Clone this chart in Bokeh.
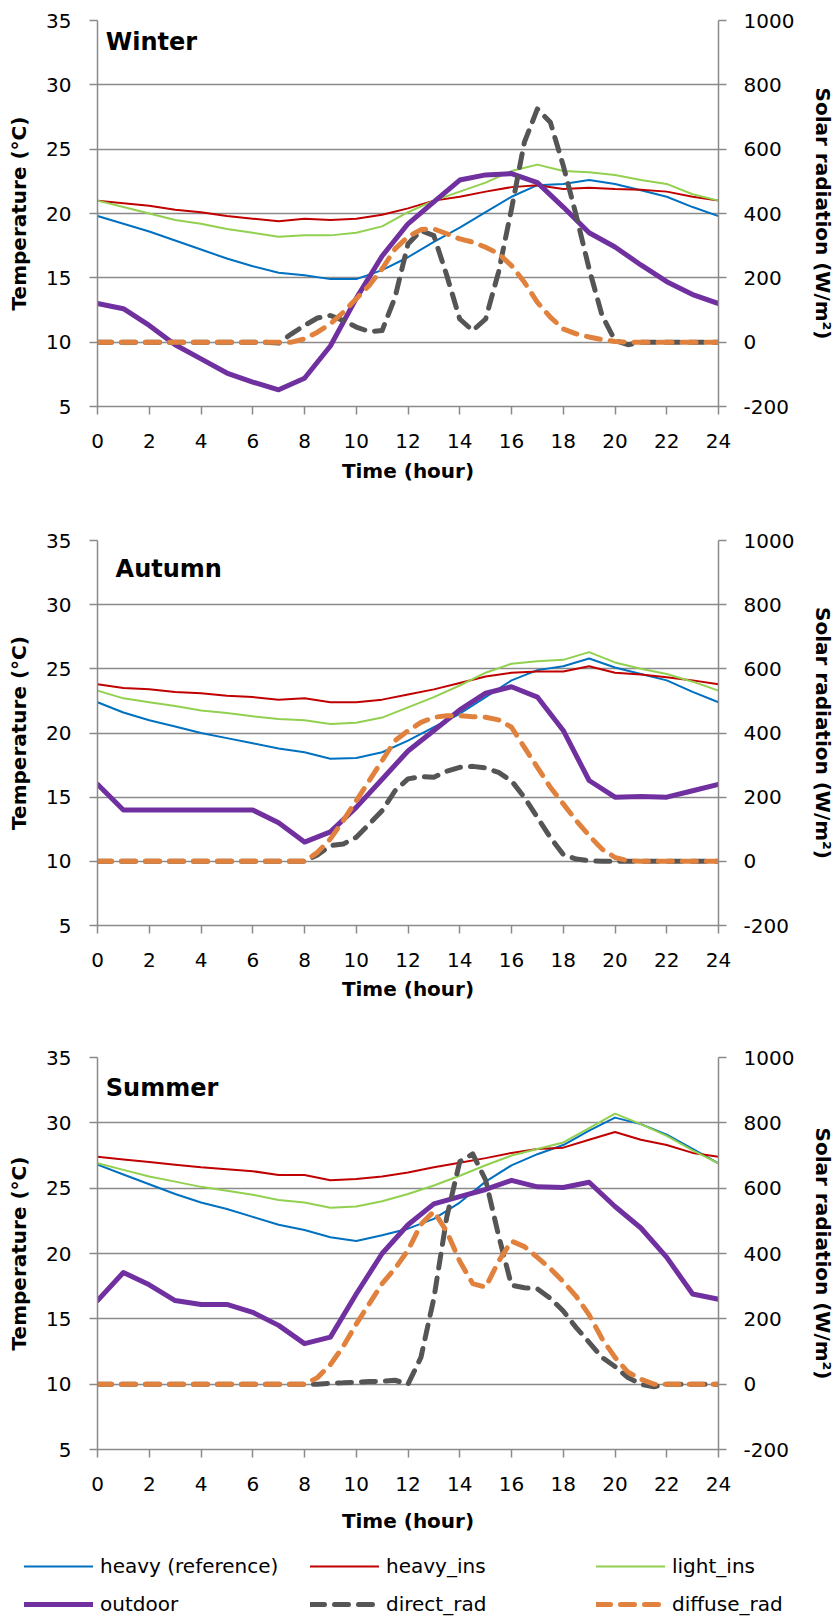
from bokeh.plotting import figure
from bokeh.models import Range1d, LinearAxis, Legend, LegendItem, Label, FixedTicker
from bokeh.layouts import column, row
from bokeh.embed import file_html
from bokeh.resources import INLINE

# ---------------- data ----------------
hours = [0, 1, 2, 3, 4, 5, 6, 7, 8, 9, 10, 11, 12, 13, 14, 15, 16, 17, 18, 19, 20, 21, 22, 23, 24]
half_hours = [0, 0.5, 1, 1.5, 2, 2.5, 3, 3.5, 4, 4.5, 5, 5.5, 6, 6.5, 7, 7.5, 8, 8.5, 9, 9.5,
              10, 10.5, 11, 11.5, 12, 12.5, 13, 13.5, 14, 14.5, 15, 15.5, 16, 16.5, 17, 17.5,
              18, 18.5, 19, 19.5, 20, 20.5, 21, 21.5, 22, 22.5, 23, 23.5, 24]
x_ticks = [0, 2, 4, 6, 8, 10, 12, 14, 16, 18, 20, 22, 24]
temp_ticks = [5, 10, 15, 20, 25, 30, 35]
rad_ticks = [-200, 0, 200, 400, 600, 800, 1000]

series_names = ["heavy (reference)", "heavy_ins", "light_ins", "outdoor", "direct_rad", "diffuse_rad"]
seasons = ["Winter", "Autumn", "Summer"]

winter_heavy = [19.8, 19.2, 18.6, 17.9, 17.2, 16.5, 15.9, 15.4, 15.2, 14.9, 14.9, 15.6, 16.6, 17.8, 18.9,
                20.1, 21.3, 22.2, 22.3, 22.6, 22.3, 21.8, 21.3, 20.5, 19.8]
winter_heavy_ins = [21.0, 20.8, 20.6, 20.3, 20.1, 19.8, 19.6, 19.4, 19.6, 19.5, 19.6, 19.9, 20.4, 21.0, 21.3,
                    21.7, 22.05, 22.2, 21.9, 22.0, 21.9, 21.85, 21.7, 21.3, 21.0]
winter_light_ins = [21.0, 20.5, 20.0, 19.5, 19.2, 18.8, 18.5, 18.2, 18.3, 18.3, 18.5, 19.0, 20.1, 21.0, 21.7,
                    22.4, 23.3, 23.8, 23.3, 23.2, 23.0, 22.6, 22.3, 21.5, 21.0]
winter_outdoor = [13.0, 12.6, 11.3, 9.8, 8.7, 7.6, 6.9, 6.3, 7.2, 9.7, 13.4, 16.7, 19.2, 20.9, 22.6,
                  23.0, 23.1, 22.4, 20.5, 18.5, 17.4, 16.0, 14.7, 13.7, 13.0]
winter_direct = [0, 0, 0, 0, 0, 0, 0, 0, 0, 0, 0, 0, 0, 0,
                 -3, 26, 52, 75, 83, 67, 47, 33, 36, 140,
                 305, 347, 331, 207, 72, 36, 72, 218, 414, 622,
                 725, 684, 549, 394, 228, 83, 5, -8,
                 0, 0, 0, 0, 0, 0, 0]
winter_diffuse = [0, 0, 0, 0, 0, 0, 0, 0, 0, 0, 0, 0, 0, 0, 0, 0,
                  10, 31, 57, 93, 135, 176, 228, 290, 328, 350, 352, 337, 321, 311, 295, 275,
                  238, 186, 124, 78, 41, 26, 16, 8, 2,
                  0, 0, 0, 0, 0, 0, 0, 0]

autumn_heavy = [22.4, 21.6, 21.0, 20.5, 20.0, 19.6, 19.2, 18.8, 18.5, 18.0, 18.05, 18.5, 19.4, 20.45, 21.5,
                22.8, 24.1, 24.9, 25.2, 25.8, 25.1, 24.6, 24.1, 23.2, 22.4]
autumn_heavy_ins = [23.8, 23.5, 23.4, 23.2, 23.1, 22.9, 22.8, 22.6, 22.7, 22.4, 22.4, 22.6, 23.0, 23.4, 23.9,
                    24.4, 24.7, 24.8, 24.8, 25.2, 24.7, 24.55, 24.35, 24.1, 23.8]
autumn_light_ins = [23.3, 22.7, 22.4, 22.1, 21.75, 21.55, 21.3, 21.1, 21.0, 20.7, 20.8, 21.2, 22.0, 22.8, 23.7,
                    24.7, 25.4, 25.6, 25.7, 26.3, 25.5, 25.0, 24.6, 24.0, 23.3]
autumn_outdoor = [16.0, 14.0, 14.0, 14.0, 14.0, 14.0, 14.0, 13.0, 11.5, 12.3, 14.2, 16.4, 18.6, 20.2, 21.8,
                  23.1, 23.6, 22.8, 20.2, 16.3, 15.0, 15.05, 15.0, 15.5, 16.0]
autumn_direct = [0, 0, 0, 0, 0, 0, 0, 0, 0, 0, 0, 0, 0, 0, 0, 0, 0,
                 20, 49, 54, 75, 116, 158, 220, 257, 264, 262, 281, 293, 296, 291, 277, 251, 199,
                 137, 75, 21, 7, 2,
                 0, 0, 0, 0, 0, 0, 0, 0, 0, 0]
autumn_diffuse = [0, 0, 0, 0, 0, 0, 0, 0, 0, 0, 0, 0, 0, 0, 0, 0, 0,
                  28, 70, 127, 189, 251, 314, 376, 407, 433, 449, 454, 454, 451, 449, 441, 418,
                  355, 293, 231, 179, 127, 80, 38, 12, 2,
                  0, 0, 0, 0, 0, 0, 0]

summer_heavy = [26.8, 26.05, 25.3, 24.55, 23.9, 23.4, 22.8, 22.2, 21.8, 21.25, 20.95, 21.4, 21.9, 22.65, 23.9,
                25.5, 26.75, 27.6, 28.3, 29.4, 30.4, 29.9, 29.1, 28.0, 26.9]
summer_heavy_ins = [27.4, 27.2, 27.0, 26.8, 26.6, 26.45, 26.3, 26.0, 26.0, 25.6, 25.7, 25.9, 26.2, 26.6, 26.95,
                    27.3, 27.7, 28.0, 28.1, 28.7, 29.3, 28.7, 28.3, 27.7, 27.4]
summer_light_ins = [26.9, 26.4, 25.9, 25.5, 25.1, 24.8, 24.5, 24.1, 23.9, 23.5, 23.6, 24.0, 24.55, 25.2, 25.95,
                    26.75, 27.5, 28.0, 28.5, 29.6, 30.7, 29.9, 29.0, 27.9, 26.9]
summer_outdoor = [16.4, 18.55, 17.6, 16.4, 16.1, 16.1, 15.5, 14.5, 13.1, 13.6, 16.9, 20.0, 22.2, 23.8, 24.35,
                  24.9, 25.6, 25.1, 25.05, 25.45, 23.6, 21.95, 19.7, 16.9, 16.5]
summer_direct = [0, 0, 0, 0, 0, 0, 0, 0, 0, 0, 0, 0, 0, 0, 0, 0, 0, 0,
                 3, 4, 6, 8, 9, 12, 0, 82, 263, 512, 681, 705, 625, 455, 303, 295, 292, 263,
                 224, 173, 128, 82, 54, 20, 0, -8,
                 0, 0, 0, 0, 0]
summer_diffuse = [0, 0, 0, 0, 0, 0, 0, 0, 0, 0, 0, 0, 0, 0, 0, 0, 0,
                  20, 60, 116, 184, 246, 308, 354, 410, 489, 529, 467, 376, 308, 297, 376, 438,
                  421, 388, 354, 314, 269, 212, 139, 82, 37, 15,
                  0, 0, 0, 0, 0, 0]

# ---------------- style ----------------
FONT = "DejaVu Sans"
GRID = "#8a8a8a"
colors = ["#0070C0", "#C00000", "#92D050", "#7030A0", "#555555", "#E0823D"]
widths = [2, 2, 2, 5, 5, 5]
dashes = ["solid", "solid", "solid", "solid", "14 10", "14 10"]

panels = [
    dict(name=seasons[0], temps=[winter_heavy, winter_heavy_ins, winter_light_ins, winter_outdoor],
         rads=[winter_direct, winter_diffuse], h=520, top=20, bottom=114,
         lx=0.32, ly=33.3, title_standoff=8),
    dict(name=seasons[1], temps=[autumn_heavy, autumn_heavy_ins, autumn_light_ins, autumn_outdoor],
         rads=[autumn_direct, autumn_diffuse], h=520, top=20, bottom=115,
         lx=0.7, ly=32.8, title_standoff=7),
    dict(name=seasons[2], temps=[summer_heavy, summer_heavy_ins, summer_light_ins, summer_outdoor],
         rads=[summer_direct, summer_diffuse], h=512, top=17, bottom=103,
         lx=0.32, ly=32.7, title_standoff=15),
]


def style_axis(ax, ticks):
    ax.ticker = FixedTicker(ticks=ticks)
    ax.axis_line_color = GRID
    ax.axis_line_width = 1.5
    ax.major_tick_line_color = GRID
    ax.major_tick_line_width = 1.5
    ax.major_tick_in = 0
    ax.major_tick_out = 8
    ax.minor_tick_line_color = None
    ax.major_label_text_font = FONT
    ax.major_label_text_font_size = "20px"
    ax.major_label_text_color = "black"
    ax.axis_label_text_font = FONT
    ax.axis_label_text_font_size = "20px"
    ax.axis_label_text_font_style = "bold"
    ax.axis_label_text_color = "black"


figs = []
for pd_ in panels:
    p = figure(width=838, height=pd_["h"], x_range=Range1d(0, 24), y_range=Range1d(5, 35),
               output_backend="svg", toolbar_location=None,
               min_border_left=97, min_border_right=118,
               min_border_top=pd_["top"], min_border_bottom=pd_["bottom"])
    p.extra_y_ranges = {"rad": Range1d(-200, 1000)}
    p.outline_line_color = None
    p.background_fill_color = "white"
    p.border_fill_color = "white"
    p.xgrid.grid_line_color = None
    p.ygrid.ticker = FixedTicker(ticks=temp_ticks)
    p.ygrid.grid_line_color = GRID
    p.ygrid.grid_line_width = 1.5

    style_axis(p.xaxis[0], x_ticks)
    p.xaxis[0].axis_label = "Time (hour)"
    p.xaxis[0].major_label_standoff = 19
    p.xaxis[0].axis_label_standoff = pd_["title_standoff"]

    style_axis(p.yaxis[0], temp_ticks)
    p.yaxis[0].axis_label = "Temperature (°C)"
    p.yaxis[0].major_label_standoff = 18
    p.yaxis[0].axis_label_standoff = 12

    rax = LinearAxis(y_range_name="rad", axis_label="Solar radiation (W/m²)")
    style_axis(rax, rad_ticks)
    rax.major_label_overrides = {-200: "-200"}
    rax.major_label_standoff = 17
    rax.axis_label_standoff = 14
    p.add_layout(rax, "right")

    for i, ys in enumerate(pd_["temps"]):
        p.line(hours, ys, line_color=colors[i], line_width=widths[i],
               line_join="round", line_cap="round")
    for j, ys in enumerate(pd_["rads"]):
        k = 4 + j
        p.line(half_hours, ys, y_range_name="rad", line_color=colors[k],
               line_width=widths[k], line_dash=dashes[k], line_cap="round", line_join="round")

    p.add_layout(Label(x=pd_["lx"], y=pd_["ly"], text=pd_["name"], text_font=FONT,
                       text_font_size="24px", text_font_style="bold", text_color="black",
                       text_baseline="middle", text_align="left"))
    figs.append(p)

# ---------------- shared legend strip ----------------
lg = figure(width=838, height=66, x_range=Range1d(0, 24), y_range=Range1d(5, 35),
            x_axis_type=None, y_axis_type=None, output_backend="svg", toolbar_location=None,
            min_border=0, min_border_left=0, min_border_right=0, min_border_top=0,
            min_border_bottom=0)
lg.outline_line_color = None
lg.grid.grid_line_color = None
leg_x = [hours] * 4 + [half_hours] * 2
leg_y = panels[2]["temps"] + panels[2]["rads"]
items = []
for k, nm in enumerate(series_names):
    r = lg.line(leg_x[k], leg_y[k], line_color=colors[k], line_width=widths[k],
                line_dash=dashes[k], line_cap="round", visible=False)
    items.append(LegendItem(label=nm, renderers=[r]))
legend = Legend(items=items, ncols=3, location=(24, 0), orientation="horizontal",
                glyph_width=69, glyph_height=28, label_standoff=7, label_width=200,
                spacing=10, padding=0, margin=0, border_line_color=None,
                background_fill_alpha=0, inactive_fill_alpha=0, label_text_font=FONT,
                label_text_font_size="20px", label_text_color="black",
                label_text_baseline="middle", label_height=28)
lg.add_layout(legend, "center")

layout = column(figs[0], figs[1], figs[2], row(lg, spacing=0), spacing=0)
open("out.html", "w").write(file_html(layout, INLINE))
